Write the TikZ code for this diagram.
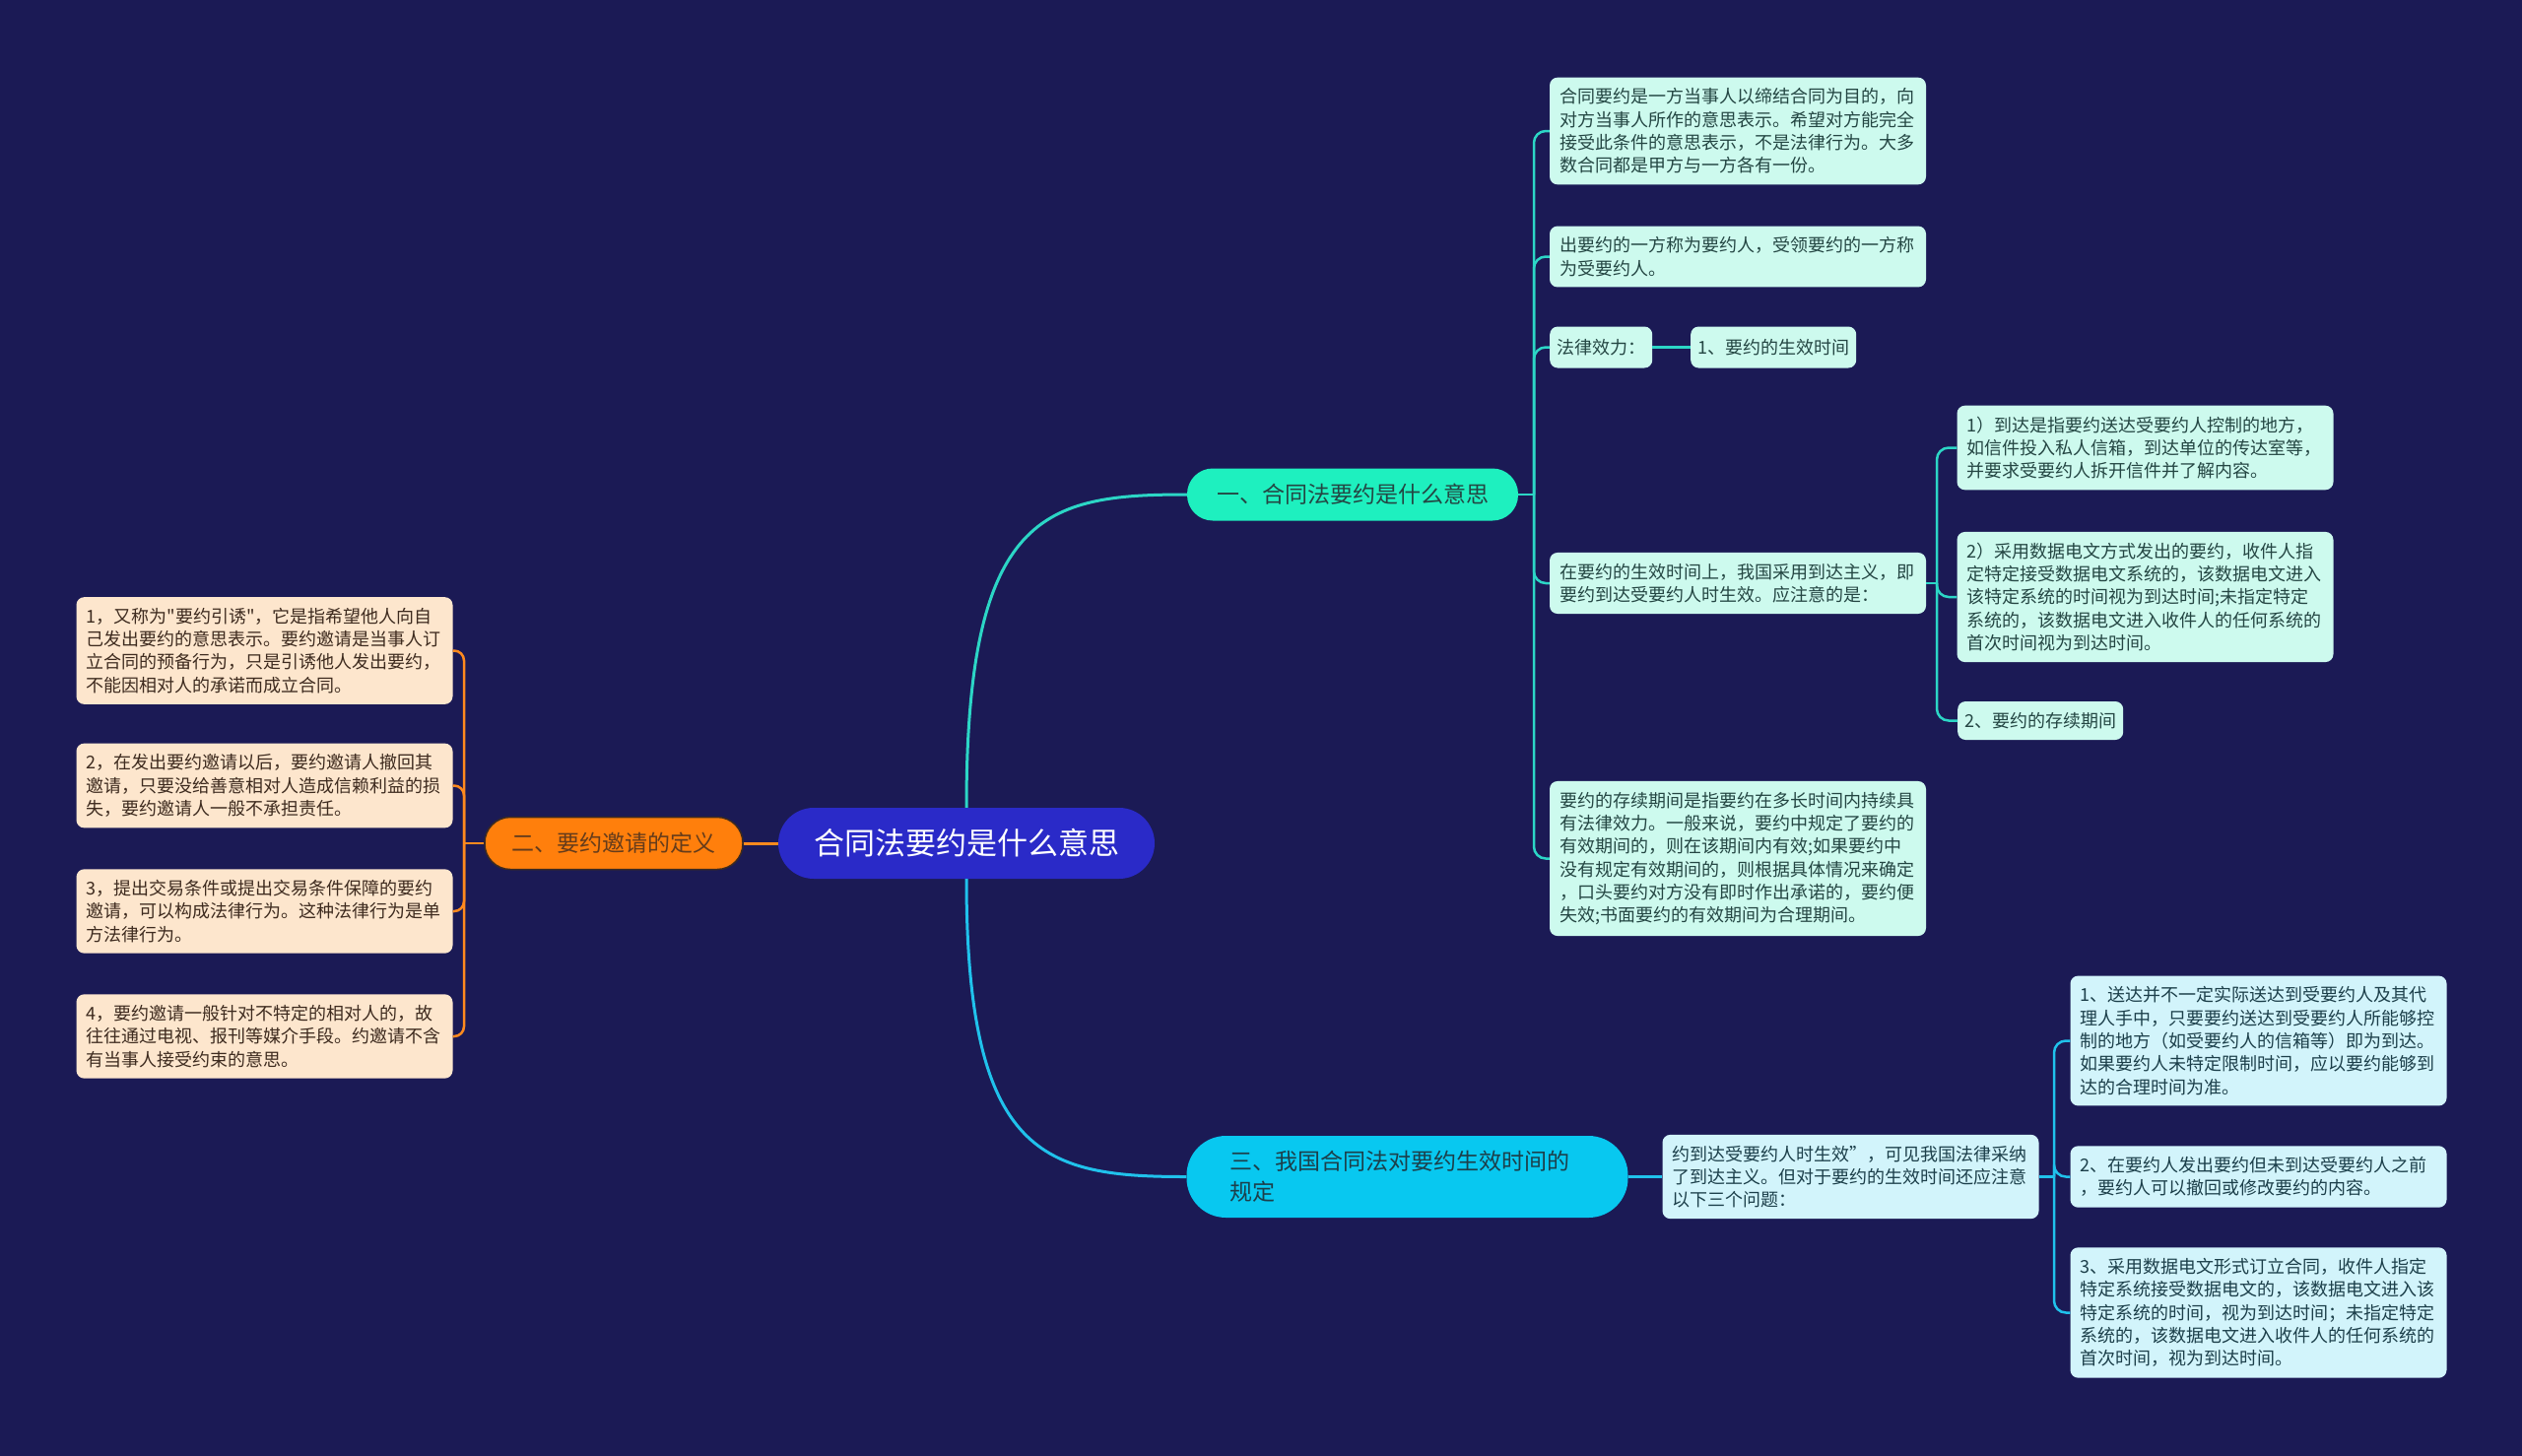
\documentclass[tikz,border=0pt]{standalone}
\usepackage{fontspec}
\setmainfont{Noto Sans CJK SC}
\newfontfamily\cjk{Noto Sans CJK SC}
\usetikzlibrary{calc,positioning}

\definecolor{bgnavy}{HTML}{1B1A55}
\definecolor{ctrblue}{HTML}{2A2AC8}
\definecolor{tealfill}{HTML}{1EF0BF}
\definecolor{tealline}{HTML}{2CD6C6}
\definecolor{tealleaf}{HTML}{CDFAEE}
\definecolor{tealtext}{HTML}{244643}
\definecolor{cyanfill}{HTML}{08C8F0}
\definecolor{cyanline}{HTML}{20C2EC}
\definecolor{cyanleaf}{HTML}{D2F4FB}
\definecolor{cyantext}{HTML}{1C3F4A}
\definecolor{orfill}{HTML}{FF7F0C}
\definecolor{orline}{HTML}{FF8A1E}
\definecolor{orleaf}{HTML}{FDE6CD}
\definecolor{ortext}{HTML}{3E2B1F}

\begin{document}
\begin{tikzpicture}[x=1pt,y=-1pt,
  txt/.style={font={\cjk\fontsize{18}{23.3}\selectfont}},
  leaf/.style={txt,rectangle,rounded corners=8pt,inner xsep=10pt,inner ysep=11pt,
    align=left,text width=362pt},
  tag/.style={txt,rectangle,rounded corners=8pt,inner xsep=7pt,minimum height=42pt},
  br/.style={rectangle,rounded corners=26pt,font={\cjk\fontsize{23}{31}\selectfont},minimum height=53pt},
  tl/.style={tealline,line width=2.5pt},
  cl/.style={cyanline,line width=2.5pt},
  ol/.style={orline,line width=2.5pt}]
  \useasboundingbox (0,0) rectangle (2560,1478);
  \fill[bgnavy] (0,0) rectangle (2560,1478);

  % root and main branches
  \node[rectangle,rounded corners=36pt,fill=ctrblue,text=white,minimum width=382pt,
    minimum height=72pt,font={\cjk\fontsize{31}{36}\selectfont}] (ctr) at (981,856) {合同法要约是什么意思};
  \node[br,fill=tealfill,text=tealtext,minimum width=336pt] (b1) at (1373,502) {一、合同法要约是什么意思};
  \node[br,fill=orfill,draw=ortext,line width=1.5pt,text=ortext!80!orfill,minimum width=262pt]
    (b2) at (623,856) {二、要约邀请的定义};
  \node[br,fill=cyanfill,text=cyantext,rounded corners=40pt,minimum height=83pt,inner xsep=44pt,
    align=left,text width=360pt] (b3) at (1428.5,1194.5)
    {三、我国合同法对要约生效时间的\\规定};

  % branch one
  \node[leaf,fill=tealleaf,text=tealtext] (a1) at (1764,133)
    {合同要约是一方当事人以缔结合同为目的，向\\对方当事人所作的意思表示。希望对方能完全\\接受此条件的意思表示，不是法律行为。大多\\数合同都是甲方与一方各有一份。};
  \node[leaf,fill=tealleaf,text=tealtext] (a2) at (1764,260.5)
    {出要约的一方称为要约人，受领要约的一方称\\为受要约人。};
  \node[tag,fill=tealleaf,text=tealtext,anchor=west] (a3) at (1573,352.5) {法律效力：};
  \node[tag,fill=tealleaf,text=tealtext,anchor=west] (a3s) at (1716,352.5) {1、要约的生效时间};
  \node[leaf,fill=tealleaf,text=tealtext] (a4) at (1764,592)
    {在要约的生效时间上，我国采用到达主义，即\\要约到达受要约人时生效。应注意的是：};
  \node[leaf,fill=tealleaf,text=tealtext] (s1) at (2177.5,454.5)
    {1）到达是指要约送达受要约人控制的地方，\\如信件投入私人信箱，到达单位的传达室等，\\并要求受要约人拆开信件并了解内容。};
  \node[leaf,fill=tealleaf,text=tealtext] (s2) at (2177.5,606)
    {2）采用数据电文方式发出的要约，收件人指\\定特定接受数据电文系统的，该数据电文进入\\该特定系统的时间视为到达时间;未指定特定\\系统的，该数据电文进入收件人的任何系统的\\首次时间视为到达时间。};
  \node[tag,fill=tealleaf,text=tealtext,anchor=west,minimum height=39pt] (s3) at (1987,731.5) {2、要约的存续期间};
  \node[leaf,fill=tealleaf,text=tealtext] (a5) at (1764,871.5)
    {要约的存续期间是指要约在多长时间内持续具\\有法律效力。一般来说，要约中规定了要约的\\有效期间的，则在该期间内有效;如果要约中\\没有规定有效期间的，则根据具体情况来确定\\，口头要约对方没有即时作出承诺的，要约便\\失效;书面要约的有效期间为合理期间。};

  % branch two
  \node[leaf,fill=orleaf,text=ortext] (o1) at (268.5,660.5)
    {1，又称为"要约引诱"，它是指希望他人向自\\己发出要约的意思表示。要约邀请是当事人订\\立合同的预备行为，只是引诱他人发出要约，\\不能因相对人的承诺而成立合同。};
  \node[leaf,fill=orleaf,text=ortext] (o2) at (268.5,797.5)
    {2，在发出要约邀请以后，要约邀请人撤回其\\邀请，只要没给善意相对人造成信赖利益的损\\失，要约邀请人一般不承担责任。};
  \node[leaf,fill=orleaf,text=ortext] (o3) at (268.5,925)
    {3，提出交易条件或提出交易条件保障的要约\\邀请，可以构成法律行为。这种法律行为是单\\方法律行为。};
  \node[leaf,fill=orleaf,text=ortext] (o4) at (268.5,1052)
    {4，要约邀请一般针对不特定的相对人的，故\\往往通过电视、报刊等媒介手段。约邀请不含\\有当事人接受约束的意思。};

  % branch three
  \node[leaf,fill=cyanleaf,text=cyantext] (c1) at (1878.5,1194.5)
    {约到达受要约人时生效”，可见我国法律采纳\\了到达主义。但对于要约的生效时间还应注意\\以下三个问题：};
  \node[leaf,fill=cyanleaf,text=cyantext] (t1) at (2292.5,1056.5)
    {1、送达并不一定实际送达到受要约人及其代\\理人手中，只要要约送达到受要约人所能够控\\制的地方（如受要约人的信箱等）即为到达。\\如果要约人未特定限制时间，应以要约能够到\\达的合理时间为准。};
  \node[leaf,fill=cyanleaf,text=cyantext] (t2) at (2292.5,1194.5)
    {2、在要约人发出要约但未到达受要约人之前\\，要约人可以撤回或修改要约的内容。};
  \node[leaf,fill=cyanleaf,text=cyantext] (t3) at (2292.5,1332.5)
    {3、采用数据电文形式订立合同，收件人指定\\特定系统接受数据电文的，该数据电文进入该\\特定系统的时间，视为到达时间；未指定特定\\系统的，该数据电文进入收件人的任何系统的\\首次时间，视为到达时间。};

  % junctions
  \coordinate (j1) at (1557,502);
  \coordinate (j4) at (1966,592);
  \coordinate (j2) at (471,856);
  \coordinate (j3) at (2085,1194.5);

  % connectors
  \draw[tl,line width=3pt] (ctr.north) .. controls (981,520) and (1060,502) .. (b1.west);
  \draw[cl,line width=3pt] (ctr.south) .. controls (981,1175) and (1060,1194.5) .. (b3.west);
  \draw[ol,line width=3pt] (ctr.west) -- (b2.east);

  \draw[tl] (b1.east) -- (j1);
  \foreach \n in {a1,a2,a3,a4,a5}
    \draw[tl,rounded corners=12pt] (j1) |- (\n.west);
  \draw[tl] (a3.east) -- (a3s.west);
  \draw[tl] (a4.east) -- (j4);
  \foreach \n in {s1,s2,s3}
    \draw[tl,rounded corners=12pt] (j4) |- (\n.west);

  \draw[ol] (b2.west) -- (j2);
  \foreach \n in {o1,o2,o3,o4}
    \draw[ol,rounded corners=10pt] (j2) |- (\n.east);

  \draw[cl] (b3.east) -- (c1.west);
  \draw[cl] (c1.east) -- (j3);
  \foreach \n in {t1,t2,t3}
    \draw[cl,rounded corners=12pt] (j3) |- (\n.west);
\end{tikzpicture}
\end{document}
